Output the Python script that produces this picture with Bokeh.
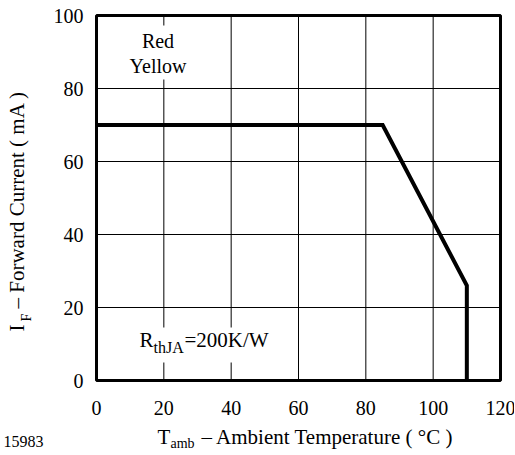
import math
from bokeh.plotting import figure
from bokeh.models import Label, BoxAnnotation, Range1d, Grid
from bokeh.core.properties import value
from bokeh.embed import file_html
from bokeh.resources import INLINE

# ---- data ----
temperature = [0, 85, 110, 110]      # T_amb (°C)
forward_current = [70, 70, 26, 0]    # I_F (mA)
x_ticks = [0, 20, 40, 60, 80, 100, 120]
y_ticks = [0, 20, 40, 60, 80, 100]
led_colors = ["Red", "Yellow"]
figure_id = "15983"

FONT = "Liberation Serif"
BASE_FIX = 0.3375   # em shift so anchors behave as alphabetic baselines

# ---- layout (pixels) ----
W, H = 514, 452
FL, FR, FT, FB = 96, 500, 15, 380   # plot-area edges

x_lo, x_hi = min(x_ticks), max(x_ticks)
y_lo, y_hi = min(y_ticks), max(y_ticks)
sx = (FR - FL) / (x_hi - x_lo)
sy = (FB - FT) / (y_hi - y_lo)


def dx(px):
    return x_lo + (px - FL) / sx


def dy(py):
    return y_lo + (FB - py) / sy


p = figure(width=W, height=H, output_backend="svg", toolbar_location=None,
           title_location=None, x_axis_location=None, y_axis_location=None,
           x_range=Range1d(dx(0), dx(W)), y_range=Range1d(dy(H), dy(0)),
           min_border=0)
p.center = [c for c in p.center if not isinstance(c, Grid)]
p.background_fill_color = "white"
p.border_fill_color = "white"
p.outline_line_color = None

# grid
nx, ny = len(x_ticks), len(y_ticks)
p.segment(x0=x_ticks, y0=[y_lo] * nx, x1=x_ticks, y1=[y_hi] * nx,
          line_color="black", line_width=1)
p.segment(x0=[x_lo] * ny, y0=y_ticks, x1=[x_hi] * ny, y1=y_ticks,
          line_color="black", line_width=1)

# derating curve
p.line(temperature, forward_current, line_width=4, line_color="black",
       line_join="miter")

# plot-area border
p.quad(left=[x_lo], right=[x_hi], bottom=[y_lo], top=[y_hi],
       fill_color=None, line_color="black", line_width=3)

# tick labels
TICK_SIZE = 20
p.text(x=x_ticks, y=[dy(414 - BASE_FIX * TICK_SIZE)] * nx,
       text=[str(t) for t in x_ticks],
       text_font=value(FONT), text_font_size=value(f"{TICK_SIZE}px"),
       text_color="black", text_align="center", text_baseline="alphabetic")
p.text(x=[dx(83)] * ny,
       y=[t - (7.5 - BASE_FIX * TICK_SIZE) / sy for t in y_ticks],
       text=[str(t) for t in y_ticks],
       text_font=value(FONT), text_font_size=value(f"{TICK_SIZE}px"),
       text_color="black", text_align="right", text_baseline="alphabetic")


def box(l, r, t, b):
    p.add_layout(BoxAnnotation(left=dx(l), right=dx(r), top=dy(t), bottom=dy(b),
                               fill_color="white", fill_alpha=1.0,
                               line_color=None))


def lab(text, px, py, size, align="left", rotated=False):
    if rotated:
        px -= BASE_FIX * size
        angle = math.pi / 2
    else:
        py -= BASE_FIX * size
        angle = 0.0
    p.add_layout(Label(x=dx(px), y=dy(py), text=text, text_font=FONT,
                       text_font_size=f"{size}px", text_color="black",
                       text_align=align, text_baseline="alphabetic",
                       angle=angle))


# white boxes behind the in-plot notes
box(122, 193, 25, 79)
box(133, 276, 327, 362)

lab(led_colors[0], 157.5, 47, 20, align="center")
lab(led_colors[1], 157.5, 72, 20, align="center")

lab("R", 139, 347, 21)
lab("thJA", 153, 352, 16)
lab("=200K/W", 184, 347, 21)

# x-axis title
lab("T", 157, 444, 21)
lab("amb", 170, 448, 14)
lab("\u2013 Ambient Temperature ( \u00b0C )", 201, 444, 21)

# y-axis title (rotated)
lab("I", 24, 331, 21, rotated=True)
lab("F", 31, 321, 14, rotated=True)
lab("\u2013 Forward Current ( mA )", 24, 308, 21, rotated=True)

lab(figure_id, 3, 446, 16)

open("out.html", "w").write(file_html(p, INLINE))
